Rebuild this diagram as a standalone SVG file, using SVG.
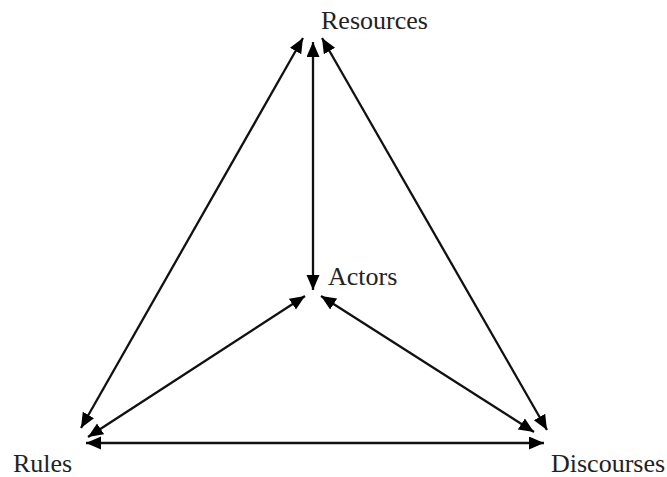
<svg xmlns="http://www.w3.org/2000/svg" width="667" height="477" viewBox="0 0 667 477">
<style>
.lbl{font-family:"Liberation Serif","Times New Roman",serif;font-size:26px;fill:#222}
.c line{stroke:#111;stroke-width:2.3;marker-start:url(#ah);marker-end:url(#ah)}
</style>
<defs>
<marker id="ah" markerUnits="userSpaceOnUse" markerWidth="17" markerHeight="15" refX="15" refY="6.5" orient="auto-start-reverse" viewBox="0 0 17 15">
<path d="M0,0 L15,6.5 L0,13 z" fill="#000"/>
</marker>
</defs>
<rect width="667" height="477" fill="#fff"/>
<g class="c" id="connectors">
<line x1="303" y1="38" x2="81" y2="428"/>
<line x1="313" y1="42" x2="313" y2="290"/>
<line x1="322" y1="38" x2="547" y2="430"/>
<line x1="305" y1="296" x2="88" y2="437"/>
<line x1="321" y1="296" x2="534" y2="432"/>
<line x1="86" y1="443" x2="544" y2="443"/>
</g>
<g id="resources"><text class="lbl" x="321" y="29">Resources</text></g>
<g id="actors"><text class="lbl" x="328" y="285">Actors</text></g>
<g id="rules"><text class="lbl" x="13" y="472">Rules</text></g>
<g id="discourses"><text class="lbl" x="551" y="472">Discourses</text></g>
</svg>
